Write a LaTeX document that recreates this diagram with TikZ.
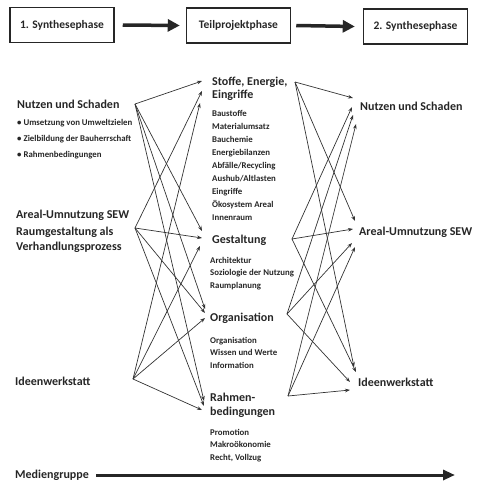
\documentclass[tikz,border=0pt]{standalone}
\usepackage{fontspec}
\setmainfont{Carlito}
\usetikzlibrary{arrows.meta}
\begin{document}
\begin{tikzpicture}[x=1pt,y=-1pt,
  every node/.style={inner sep=0pt, text=black!85},
  head/.style={font=\fontsize{12}{14}\selectfont\bfseries, anchor=base west},
  sub/.style={font=\fontsize{8.8}{11}\selectfont\bfseries, anchor=base west},
  phase/.style={draw=black!85, line width=1.5pt, minimum width=104pt, minimum height=35pt, font=\fontsize{11.5}{13}\selectfont\bfseries},
  link/.style={draw=black!80, line width=0.7pt, -{Stealth[length=5pt,width=3.6pt]}},
  fat/.style={draw=black!85, line width=3.5pt, -{Triangle[length=12pt,width=12pt]}}
]
\useasboundingbox (0,0) rectangle (481,482);

% phase boxes
\node[phase] (b1) at (62,25) {1. Synthesephase};
\node[phase] (b2) at (238.5,25.5) {Teilprojektphase};
\node[phase] (b3) at (415.5,26.5) {2. Synthesephase};
\draw[fat] ([xshift=8pt]b1.east) -- ([xshift=-6pt]b2.west);
\draw[fat] ([xshift=5pt]b2.east) -- ([xshift=-8pt]b3.west);

% left column
\node[head] (lnutzen) at (17,108.5) {Nutzen und Schaden};
\node[sub] (lb1) at (17,125) {• Umsetzung von Umweltzielen};
\node[sub] (lb2) at (17,141) {• Zielbildung der Bauherrschaft};
\node[sub] (lb3) at (17,157) {• Rahmenbedingungen};
\node[head] (lareal1) at (16,218.5) {Areal-Umnutzung SEW};
\node[head] (lareal2) at (16,235) {Raumgestaltung als};
\node[head] (lareal3) at (16,250.5) {Verhandlungsprozess};
\node[head] (lideen) at (15,385) {Ideenwerkstatt};
\node[head] (med) at (15,478.5) {Mediengruppe};

% middle column
\node[head] (stoffe1) at (212,85) {Stoffe, Energie,};
\node[head] (stoffe2) at (212,98) {Eingriffe};
\foreach \t [count=\i from 0] in {Baustoffe,Materialumsatz,Bauchemie,Energiebilanzen,Abfälle/Recycling,Aushub/Altlasten,Eingriffe,Ökosystem Areal,Innenraum}
  \node[sub] (st\i) at (212,116+13*\i) {\t};
\node[head] (gest) at (212,243) {Gestaltung};
\foreach \t [count=\i from 0] in {Architektur,Soziologie der Nutzung,Raumplanung}
  \node[sub] (ge\i) at (210,263+12.5*\i) {\t};
\node[head] (orga) at (210,321) {Organisation};
\foreach \t [count=\i from 0] in {Organisation,Wissen und Werte,Information}
  \node[sub] (or\i) at (210,343+12.5*\i) {\t};
\node[head] (rahm1) at (210,401) {Rahmen-};
\node[head] (rahm2) at (210,415.5) {bedingungen};
\foreach \t [count=\i from 0] in {Promotion,Makroökonomie,{Recht, Vollzug}}
  \node[sub] (ra\i) at (210,435+12.5*\i) {\t};

% right column
\node[head] (rnutzen) at (360,110.5) {Nutzen und Schaden};
\node[head] (rareal) at (359,235.5) {Areal-Umnutzung SEW};
\node[head] (rideen) at (358,386) {Ideenwerkstatt};

% media arrow
\coordinate (medend) at (455,475);
\draw[draw=black!85, line width=3pt, -{Triangle[length=12pt,width=10pt]}] ([xshift=7pt]med.east |- medend) -- (medend);

% left sources
\coordinate (LN) at (135,104);
\coordinate (LA) at (135,228);
\coordinate (LI) at (133,379);
% middle targets
\coordinate (tS1) at (202,81);  \coordinate (tS2) at (202,91);  \coordinate (tS3) at (200,103);
\coordinate (tG1) at (202,231); \coordinate (tG2) at (202,238); \coordinate (tG3) at (200,246);
\coordinate (tO1) at (205,309); \coordinate (tO2) at (205,313); \coordinate (tO3) at (205,318);
\coordinate (tR1) at (204,401); \coordinate (tR2) at (204,406); \coordinate (tR3) at (202,410);
\foreach \s/\k in {LN/1,LA/2,LI/3}
  \foreach \m in {S,G,O,R}
    \draw[link] (\s) -- (t\m\k);

% middle sources
\coordinate (MS) at (295,82);
\coordinate (MG) at (292,239);
\coordinate (MO) at (287,314);
\coordinate (MR) at (288,396);
% right targets
\coordinate (uN1) at (353,98);  \coordinate (uN2) at (352,107); \coordinate (uN3) at (353,115); \coordinate (uN4) at (356,124);
\coordinate (uA1) at (355,221); \coordinate (uA2) at (353,229); \coordinate (uA3) at (352,243); \coordinate (uA4) at (355,247);
\coordinate (uI1) at (354,367); \coordinate (uI2) at (356,372); \coordinate (uI3) at (350,382); \coordinate (uI4) at (350,390);
\foreach \s/\k in {MS/1,MG/2,MO/3,MR/4}
  \foreach \r in {N,A,I}
    \draw[link] (\s) -- (u\r\k);
\end{tikzpicture}
\end{document}
